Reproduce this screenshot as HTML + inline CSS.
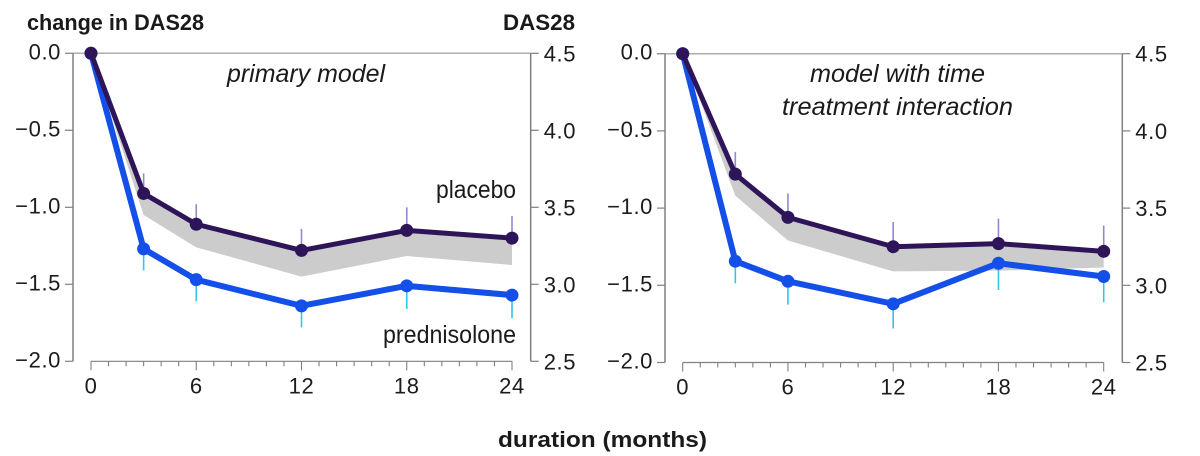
<!DOCTYPE html>
<html lang="en">
<head>
<meta charset="utf-8">
<title>Change in DAS28 over time</title>
<style>
html,body{margin:0;padding:0;background:#fff;width:1200px;height:456px;overflow:hidden}
svg{display:block;font-family:"Liberation Sans",sans-serif}
.tick{font-size:22px;fill:#1c1c1c;letter-spacing:.6px}
.bold{font-size:22px;font-weight:700;fill:#1a1a1a}
.note{font-size:25px;font-style:italic;fill:#1a1a1a}
.label{font-size:25px;fill:#1a1a1a}
</style>
</head>
<body>
<svg id="chart" width="1200" height="456" viewBox="0 0 1200 456" xmlns="http://www.w3.org/2000/svg">
  <text class="bold" x="27" y="30" textLength="177" lengthAdjust="spacingAndGlyphs">change in DAS28</text>
  <text class="bold" x="503" y="30" textLength="72" lengthAdjust="spacingAndGlyphs">DAS28</text>
  <text class="note" x="227" y="82" textLength="158" lengthAdjust="spacingAndGlyphs">primary model</text>
  <text class="note" x="810" y="82" textLength="175" lengthAdjust="spacingAndGlyphs">model with time</text>
  <text class="note" x="782" y="115" textLength="231" lengthAdjust="spacingAndGlyphs">treatment interaction</text>
  <text class="label" x="436" y="198" textLength="80" lengthAdjust="spacingAndGlyphs">placebo</text>
  <text class="label" x="383" y="343" textLength="133" lengthAdjust="spacingAndGlyphs">prednisolone</text>
  <text class="bold" x="498" y="447" textLength="209" lengthAdjust="spacingAndGlyphs">duration (months)</text>
</svg>
<script>
var months = [0, 3, 6, 12, 18, 24];
var xTickLabels = [0, 6, 12, 18, 24];
var leftTickValues = [0, -0.5, -1, -1.5, -2];
var rightTickLabels = ["4.5", "4.0", "3.5", "3.0", "2.5"];

var primaryPlacebo = [0, -0.91, -1.11, -1.28, -1.15, -1.20];
var primaryPrednisolone = [0, -1.27, -1.47, -1.64, -1.51, -1.57];
var primaryBandLower = [0, -1.05, -1.26, -1.45, -1.316, -1.375];
var primaryPlaceboErrorTop = [0, -0.78, -0.98, -1.14, -1.0, -1.056];
var primaryPrednisoloneErrorBottom = [0, -1.41, -1.61, -1.78, -1.66, -1.72];

var interactionPlacebo = [0, -0.78, -1.06, -1.25, -1.23, -1.28];
var interactionPrednisolone = [0, -1.344, -1.474, -1.62, -1.357, -1.443];
var interactionBandLower = [0, -0.92, -1.21, -1.41, -1.405, -1.385];
var interactionPlaceboErrorTop = [0, -0.636, -0.905, -1.09, -1.068, -1.113];
var interactionPrednisoloneErrorBottom = [0, -1.487, -1.625, -1.78, -1.53, -1.61];

var svg = document.getElementById('chart');
var NS = 'http://www.w3.org/2000/svg';

function make(tag, attrs, parent) {
  var el = document.createElementNS(NS, tag);
  for (var k in attrs) el.setAttribute(k, attrs[k]);
  parent.appendChild(el);
  return el;
}

function drawPanel(cfg) {
  var g = make('g', {}, svg);
  
  

  function xs(m) { return cfg.x0 + (cfg.x24 - cfg.x0) * m / 24; }
  function ys(v) { return cfg.yTop + (cfg.yBottom - cfg.yTop) * (-v) / 2; }
  function points(arr) {
    return arr.map(function (v, i) { return xs(months[i]) + ',' + ys(v); }).join(' ');
  }

  var band = make('polygon', {
    points: points(cfg.placebo) + ' ' + cfg.bandLower.map(function (v, i) { return xs(months[i]) + ',' + ys(v); }).reverse().join(' '),
    fill: '#cccccc'
  }, g);
  
  

  var axisColor = '#808080';
  var zeroLine = make('line', { x1: cfg.axisLeft, x2: cfg.axisRight, y1: ys(0), y2: ys(0), stroke: '#adadad', 'stroke-width': 1.5 }, g);
  
  

  var leftAxis = make('line', { x1: cfg.axisLeft, x2: cfg.axisLeft, y1: ys(0), y2: ys(-2), stroke: axisColor, 'stroke-width': 1.5 }, g);
  
  

  var rightAxis = make('line', { x1: cfg.axisRight, x2: cfg.axisRight, y1: ys(0), y2: ys(-2), stroke: axisColor, 'stroke-width': 1.5 }, g);
  
  

  var xAxis = make('line', { x1: xs(0), x2: xs(24), y1: ys(-2), y2: ys(-2), stroke: axisColor, 'stroke-width': 1.2 }, g);
  
  

  leftTickValues.forEach(function (v, i) {
    var y = ys(v);
    var lt = make('line', { x1: cfg.axisLeft - 8, x2: cfg.axisLeft, y1: y, y2: y, stroke: axisColor, 'stroke-width': 1.2 }, g);
    
    
    var ll = make('text', { x: cfg.axisLeft - 12, y: y + 6, 'text-anchor': 'end', 'class': 'tick' }, g);
    
    
    ll.textContent = (v < 0 ? '\u2212' : '') + Math.abs(v).toFixed(1);

    var rt = make('line', { x1: cfg.axisRight, x2: cfg.axisRight + 8, y1: y, y2: y, stroke: axisColor, 'stroke-width': 1.2 }, g);
    
    
    var rl = make('text', { x: cfg.axisRight + 13, y: y + 8, 'class': 'tick' }, g);
    
    
    rl.textContent = rightTickLabels[i];
  });

  for (var m = 0; m <= 24; m++) {
    var major = xTickLabels.indexOf(m) >= 0;
    var t = make('line', { x1: xs(m), x2: xs(m), y1: ys(-2), y2: ys(-2) + (major ? 9 : 5), stroke: axisColor, 'stroke-width': 1.1 }, g);
    
    
  }
  xTickLabels.forEach(function (m) {
    var l = make('text', { x: xs(m), y: cfg.yBottom + 32, 'text-anchor': 'middle', 'class': 'tick' }, g);
    
    
    l.textContent = m;
  });

  months.forEach(function (m, i) {
    if (i === 0) return;
    var a = make('line', { x1: xs(m), x2: xs(m), y1: ys(cfg.placebo[i]), y2: ys(cfg.placeboTop[i]), stroke: '#9586cf', 'stroke-width': 1.6 }, g);
    
    
    var b = make('line', { x1: xs(m), x2: xs(m), y1: ys(cfg.prednisolone[i]), y2: ys(cfg.prednisoloneBottom[i]), stroke: '#35c4ea', 'stroke-width': 1.6 }, g);
    
    
  });

  var predLine = make('polyline', { points: points(cfg.prednisolone), fill: 'none', stroke: '#1450e8', 'stroke-width': 6, 'stroke-linejoin': 'round' }, g);
  
  
  cfg.prednisolone.forEach(function (v, i) {
    var c = make('circle', { cx: xs(months[i]), cy: ys(v), r: 6.5, fill: '#1450e8' }, g);
    
    
  });

  var placLine = make('polyline', { points: points(cfg.placebo), fill: 'none', stroke: '#2e1458', 'stroke-width': 5, 'stroke-linejoin': 'round' }, g);
  
  
  cfg.placebo.forEach(function (v, i) {
    var c = make('circle', { cx: xs(months[i]), cy: ys(v), r: 6.5, fill: '#2e1458' }, g);
    
    
  });
}

drawPanel({
  name: 'primary-model-panel',
  x0: 91, x24: 512, axisLeft: 73, axisRight: 530.7, yTop: 53.3, yBottom: 361.3,
  placebo: primaryPlacebo, prednisolone: primaryPrednisolone, bandLower: primaryBandLower,
  placeboTop: primaryPlaceboErrorTop, prednisoloneBottom: primaryPrednisoloneErrorBottom
});
drawPanel({
  name: 'time-interaction-panel',
  x0: 682.7, x24: 1103.7, axisLeft: 665, axisRight: 1122.3, yTop: 53.7, yBottom: 362.5,
  placebo: interactionPlacebo, prednisolone: interactionPrednisolone, bandLower: interactionBandLower,
  placeboTop: interactionPlaceboErrorTop, prednisoloneBottom: interactionPrednisoloneErrorBottom
});
</script>
</body>
</html>
